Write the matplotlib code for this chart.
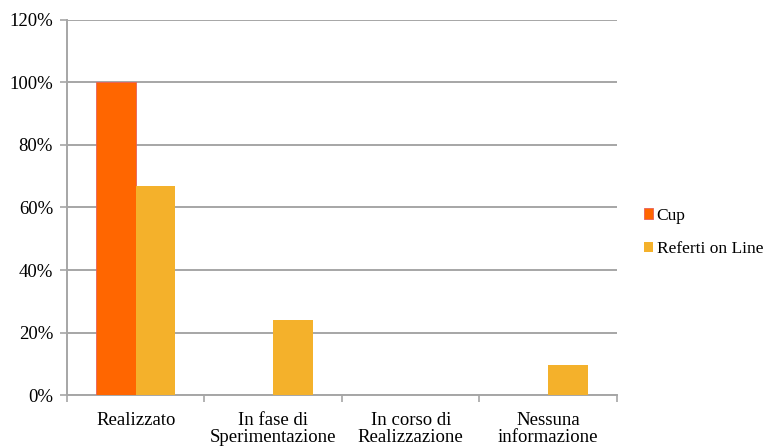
import numpy as np
import matplotlib
matplotlib.use("Agg")
import matplotlib.pyplot as plt
from matplotlib.ticker import FixedLocator, NullFormatter, FixedFormatter

categories = ["Realizzato", "In fase di\nSperimentazione", "In corso di\nRealizzazione", "Nessuna\ninformazione"]
cup = [100, 0, 0, 0]
referti = [67, 24, 0, 9.5]
yticks = [0, 20, 40, 60, 80, 100, 120]

plt.rcParams['font.family'] = ['Liberation Serif', 'DejaVu Serif']

fig = plt.figure(figsize=(7.69, 4.47), dpi=100)
ax = fig.add_axes([0.0871, 0.1163, 0.8023 - 0.0871, 0.9553 - 0.1163])

x = np.arange(len(categories))
w = 0.287
ax.bar(x - w / 2, cup, w, color="#FF6600", edgecolor="#E8605A", linewidth=0.6, label="Cup", zorder=3)
ax.bar(x + w / 2, referti, w, color="#F4B12B", label="Referti on Line", zorder=3)

ax.set_xlim(-0.5, len(categories) - 0.5)
ax.set_ylim(0, 120)
ax.set_yticks(yticks)
ax.set_yticklabels([f"{v}%" for v in yticks], fontsize=13.5)
ax.yaxis.grid(True, color="#A6A6A6", linewidth=1.4, zorder=0)

ax.xaxis.set_major_locator(FixedLocator(np.arange(len(categories) + 1) - 0.5))
ax.xaxis.set_major_formatter(NullFormatter())
ax.xaxis.set_minor_locator(FixedLocator(x))
ax.xaxis.set_minor_formatter(FixedFormatter(categories))
ax.tick_params(axis="x", which="minor", length=0, labelsize=13.5, pad=12)
ax.tick_params(axis="x", which="major", length=5, color="#A6A6A6", width=1.2)
ax.tick_params(axis="y", length=5, color="#A6A6A6", width=1.2, pad=5)
for lbl in ax.xaxis.get_minorticklabels():
    lbl.set_linespacing(1.0)

for s in ["top", "right"]:
    ax.spines[s].set_visible(False)
for s in ["left", "bottom"]:
    ax.spines[s].set_color("#A6A6A6")
    ax.spines[s].set_linewidth(1.4)

leg = fig.legend(loc="center left", bbox_to_anchor=(0.837, 0.48), frameon=False,
                 fontsize=12.5, handlelength=0.55, handleheight=0.55, handletextpad=0.2,
                 labelspacing=1.0, borderpad=0, borderaxespad=0)

fig.savefig("out.png", dpi=100)
